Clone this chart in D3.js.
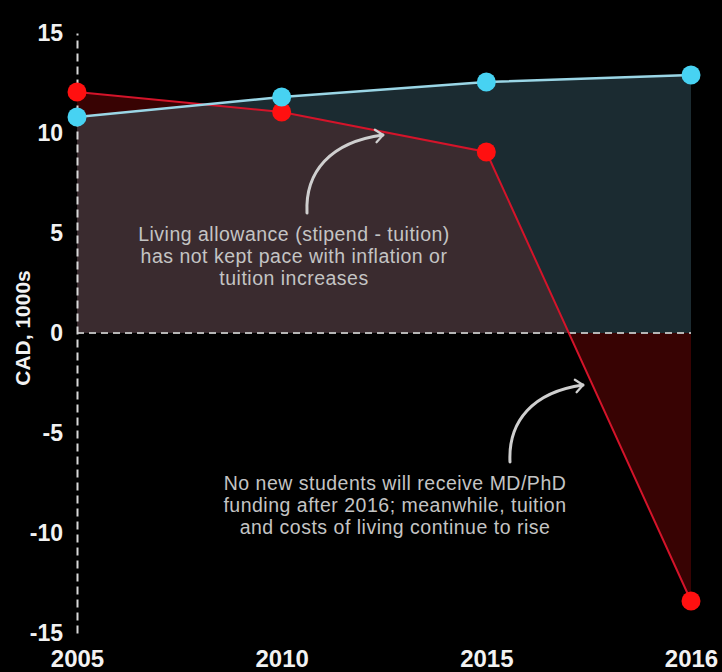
<!DOCTYPE html>
<html>
<head>
<meta charset="utf-8">
<script src="https://cdn.jsdelivr.net/npm/d3@7"></script>
<style>
  html, body { margin: 0; padding: 0; background: #000; }
  svg { display: block; font-family: "Liberation Sans", Arial, sans-serif; }
</style>
</head>
<body>
<script>
// values (CAD, 1000s)
const years = ["2005", "2010", "2015", "2016"];
const blueValues = [10.8, 11.8, 12.55, 12.9];
const redValues = [12.05, 11.05, 9.05, -13.4];
const yTicks = [15, 10, 5, 0, -5, -10, -15];

const note1 = ["Living allowance (stipend - tuition)", "has not kept pace with inflation or", "tuition increases"];
const note2 = ["No new students will receive MD/PhD", "funding after 2016; meanwhile, tuition", "and costs of living continue to rise"];

const width = 722, height = 672;

const x = d3.scalePoint().domain(years).range([77, 691]);
const y = d3.scaleLinear().domain([-15, 15]).range([633, 33]);

const svg = d3.select("body").append("svg")
  .attr("width", width)
  .attr("height", height)
  .style("background", "#000");

const defs = svg.append("defs");
defs.append("marker")
  .attr("id", "head")
  .attr("viewBox", "-10 -10 20 20")
  .attr("refX", 0).attr("refY", 0)
  .attr("markerWidth", 7).attr("markerHeight", 7)
  .attr("orient", "auto")
  .append("path")
  .attr("d", "M -7,-6 L 0,0 L -7,6")
  .attr("fill", "none")
  .attr("stroke", "#cfcfcf")
  .attr("stroke-width", 2.2)
  .attr("stroke-linecap", "round")
  .attr("stroke-linejoin", "round");

const blueData = years.map((yr, i) => ({ yr, v: blueValues[i] }));
const redData = years.map((yr, i) => ({ yr, v: redValues[i] }));

const area = d3.area().x(d => x(d.yr)).y0(y(0)).y1(d => y(d.v));
const line = d3.line().x(d => x(d.yr)).y(d => y(d.v));

defs.append("clipPath").attr("id", "blueClip")
  .append("path").attr("d", area(blueData));

// areas
svg.append("path").attr("d", area(blueData)).attr("fill", "#1b2b31");
svg.append("path").attr("d", area(redData)).attr("fill", "#380303");
svg.append("path").attr("d", area(redData)).attr("fill", "#3a2b2f")
  .attr("clip-path", "url(#blueClip)");

// zero line
svg.append("line")
  .attr("x1", x("2005")).attr("x2", x("2016"))
  .attr("y1", y(0)).attr("y2", y(0))
  .attr("stroke", "#b5b5b5")
  .attr("stroke-width", 2)
  .attr("stroke-dasharray", "7,5");

// y axis
const yAxis = svg.append("g")
  .attr("transform", `translate(${x("2005")},0)`)
  .call(d3.axisLeft(y).tickValues(yTicks).tickFormat(d => String(d)).tickSize(0).tickPadding(14));
yAxis.select(".domain")
  .attr("stroke", "#d8d8d8")
  .attr("stroke-width", 2)
  .attr("stroke-dasharray", "8,5");
yAxis.selectAll("text")
  .attr("fill", "#f2f2f2")
  .style("font-size", "23px")
  .style("font-weight", "bold");

// x axis
const xAxis = svg.append("g")
  .attr("transform", `translate(0,${y(-15)})`)
  .call(d3.axisBottom(x).tickSize(0).tickPadding(17));
xAxis.select(".domain").remove();
xAxis.selectAll("text")
  .attr("fill", "#f2f2f2")
  .style("font-size", "24px")
  .style("font-weight", "bold");

svg.append("text")
  .attr("transform", `translate(30,328) rotate(-90)`)
  .attr("text-anchor", "middle")
  .attr("fill", "#f2f2f2")
  .style("font-size", "21px")
  .style("font-weight", "bold")
  .text("CAD, 1000s");

// red series
svg.append("path").attr("d", line(redData))
  .attr("fill", "none").attr("stroke", "#d4142a").attr("stroke-width", 2);
svg.selectAll("circle.red").data(redData).join("circle")
  .attr("class", "red")
  .attr("cx", d => x(d.yr)).attr("cy", d => y(d.v))
  .attr("r", 9.5).attr("fill", "#ff1010");

// blue series
svg.append("path").attr("d", line(blueData))
  .attr("fill", "none").attr("stroke", "#9ad6e6").attr("stroke-width", 2.5);
svg.selectAll("circle.blue").data(blueData).join("circle")
  .attr("class", "blue")
  .attr("cx", d => x(d.yr)).attr("cy", d => y(d.v))
  .attr("r", 9.5).attr("fill", "#47d2f2");

// annotations
const arrows = [
  "M307,213 C305,172 330,142 383,135",
  "M510,462 C508,421 533,392 583,385"
];
svg.selectAll("path.arrow").data(arrows).join("path")
  .attr("class", "arrow")
  .attr("d", d => d)
  .attr("fill", "none")
  .attr("stroke", "#cfcfcf")
  .attr("stroke-width", 3)
  .attr("stroke-linecap", "round")
  .attr("marker-end", "url(#head)");

const notes = [
  { lines: note1, cx: 294, y0: 241 },
  { lines: note2, cx: 395, y0: 490 }
];
notes.forEach(n => {
  svg.append("text")
    .attr("text-anchor", "middle")
    .attr("fill", "#c4c4c4")
    .style("font-size", "19.5px")
    .style("letter-spacing", "0.5px")
    .selectAll("tspan").data(n.lines).join("tspan")
    .attr("x", n.cx)
    .attr("y", (d, i) => n.y0 + i * 22)
    .text(d => d);
});
</script>
</body>
</html>
